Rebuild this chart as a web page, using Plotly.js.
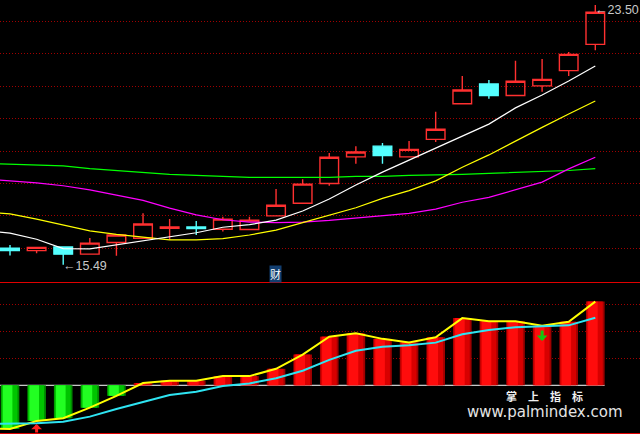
<!DOCTYPE html>
<html><head><meta charset="utf-8">
<script src="https://cdn.plot.ly/plotly-3.0.1.min.js"></script>
<style>html,body{margin:0;padding:0;background:#000;}#chart{width:640px;height:434px;}</style>
</head><body><div id="chart"></div>
<script>
// ---- price data (daily candles) ----
const openP  = [16.00,15.93,16.04,15.82,16.18,16.31,16.62,16.66,16.59,16.58,17.00,17.39,18.00,18.82,19.15,18.82,19.36,20.46,21.07,20.71,21.01,21.48,22.29];
const highP  = [16.10,16.03,16.04,16.32,16.41,17.08,16.90,16.84,16.97,16.97,17.83,18.13,18.94,19.15,19.25,19.31,20.21,21.31,21.19,21.78,21.84,22.05,23.50];
const lowP   = [15.78,15.85,15.49,15.82,15.77,16.31,16.26,16.41,16.52,16.58,17.00,17.39,17.93,18.61,18.61,18.82,19.28,20.46,20.61,20.71,20.83,21.31,22.11];
const closeP = [15.93,16.03,15.82,16.16,16.41,16.75,16.66,16.61,16.90,16.87,17.33,17.98,18.81,18.97,18.86,19.05,19.67,20.88,20.71,21.15,21.21,21.98,23.28];

// ---- moving averages (first value = prior session) ----
const maWhite   = [16.54,16.47,16.28,15.99,15.98,16.10,16.23,16.35,16.48,16.65,16.73,16.87,17.15,17.52,17.95,18.35,18.72,19.09,19.46,19.83,20.33,20.73,21.16,21.62];
const maYellow  = [17.12,17.06,16.90,16.72,16.54,16.43,16.34,16.26,16.26,16.30,16.41,16.56,16.79,17.03,17.25,17.54,17.78,18.08,18.50,18.88,19.31,19.73,20.14,20.54];
const maMagenta = [18.14,18.08,18.02,17.93,17.80,17.64,17.48,17.24,17.03,16.88,16.81,16.79,16.81,16.86,16.93,17.01,17.08,17.21,17.42,17.57,17.81,18.04,18.45,18.81];
const maGreen   = [18.62,18.60,18.56,18.54,18.46,18.40,18.32,18.28,18.25,18.21,18.19,18.19,18.19,18.19,18.22,18.22,18.25,18.26,18.28,18.31,18.34,18.35,18.40,18.46];

// ---- lower indicator ----
const indPrev  = -16.0;
const indBar   = [-16.2,-13.2,-12.2,-8.3,-3.9,0.85,1.7,1.7,3.4,3.4,6.1,11.4,18.0,19.3,17.2,15.9,17.8,24.9,23.7,23.7,22.1,23.5,31.0];
const indCyan  = [-14.3,-14.3,-14.1,-13.5,-11.6,-8.8,-6.3,-3.6,-2.4,-0.3,0.7,2.6,5.4,9.4,12.8,14.3,14.8,15.8,18.9,20.5,21.5,21.9,22.2,25.0];
const buyIdx   = [1];   const buyVal  = [-14.3];
const sellIdx  = [20];  const sellVal = [16.4];
const gridPrice = [16,17,18,19,20,21,22,23];
const gridInd   = [10,20,30];

const n = closeP.length;
const idx = closeP.map((_, i) => i);
const idxPrev = [-1].concat(idx);
const indYellow = [indPrev].concat(indBar);

const traces = [];
traces.push({
  type:'candlestick', x: idx, open: openP, high: highP, low: lowP, close: closeP,
  xaxis:'x', yaxis:'y', whiskerwidth:0,
  increasing:{line:{color:'#ff3030', width:1.4}, fillcolor:'rgba(0,0,0,0)'},
  decreasing:{line:{color:'#54ffff', width:1.4}, fillcolor:'#54ffff'},
  hoverinfo:'skip'
});
[[maGreen,'#00ff00'],[maMagenta,'#ff00ff'],[maYellow,'#ffff00'],[maWhite,'#ffffff']].forEach(([d,c]) => {
  traces.push({type:'scatter', mode:'lines', x: idxPrev, y: d, xaxis:'x', yaxis:'y',
    line:{color:c, width:1.2}, hoverinfo:'skip'});
});

// histogram with shaded layers
const layers = [
  {w:0.70, off:-0.35, pos:'#a00000', neg:'#008c00'},
  {w:0.60, off:-0.32, pos:'#d80000', neg:'#00c400'},
  {w:0.36, off:-0.27, pos:'#ff0c0c', neg:'#22ff22'}
];
layers.forEach(L => {
  traces.push({type:'bar', x: idx, y: indBar, xaxis:'x2', yaxis:'y2',
    width: L.w, offset: L.off,
    marker:{color: indBar.map(v => v >= 0 ? L.pos : L.neg), line:{width:0}},
    hoverinfo:'skip'});
});
traces.push({type:'scatter', mode:'lines', x: idxPrev, y: indYellow, xaxis:'x2', yaxis:'y2',
  line:{color:'#ffff00', width:2}, hoverinfo:'skip'});
traces.push({type:'scatter', mode:'lines', x: idxPrev, y: indCyan, xaxis:'x2', yaxis:'y2',
  line:{color:'#2ee4f2', width:2}, hoverinfo:'skip'});

// locate extremes for labels
let iLo = 0, iHi = 0;
lowP.forEach((v,i) => { if (v < lowP[iLo]) iLo = i; });
highP.forEach((v,i) => { if (v > highP[iHi]) iHi = i; });

const xr = [-0.376, 23.68];
const annotations = [
  {xref:'x', yref:'y', x: iLo, y: lowP[iLo], text:'←' + lowP[iLo].toFixed(2), showarrow:false,
   xanchor:'left', yanchor:'middle', xshift:-2, yshift:-1,
   font:{family:'Liberation Sans, DejaVu Sans', size:12.5, color:'#c8c8c8'}},
  {xref:'x', yref:'y', x: iHi, y: highP[iHi], text:'←' + highP[iHi].toFixed(2), showarrow:false,
   xanchor:'left', yanchor:'middle', xshift:-2, yshift:-5,
   font:{family:'Liberation Sans, DejaVu Sans', size:12.5, color:'#c8c8c8'}},
  {xref:'paper', yref:'paper', x: 275.5/640, y: 1-274/434, text:'财', showarrow:false,
   xanchor:'center', yanchor:'middle', bgcolor:'#123e70', borderpad:0,
   font:{family:'Noto Sans CJK SC', size:11, color:'#ffffff'}},
  {xref:'paper', yref:'paper', x: 544/640, y: 1-395.5/434, text:'<b>掌　上　指　标</b>', showarrow:false,
   xanchor:'center', yanchor:'middle', borderpad:0,
   font:{family:'Noto Sans CJK SC', size:11, color:'#f0f0f0'}},
  {xref:'paper', yref:'paper', x: 544.5/640, y: 1-412/434, text:'www.palmindex.com', showarrow:false,
   xanchor:'center', yanchor:'middle', borderpad:0,
   font:{family:'DejaVu Sans', size:15, color:'#e4e4e4'}}
];
buyIdx.forEach((b,k) => annotations.push({xref:'x2', yref:'y2', x:b, y:buyVal[k], ax:0, ay:10,
  text:'', showarrow:true, arrowhead:1, arrowsize:0.6, arrowwidth:3, arrowcolor:'#ff2020'}));
sellIdx.forEach((s,k) => annotations.push({xref:'x2', yref:'y2', x:s, y:sellVal[k], ax:0, ay:-12,
  text:'', showarrow:true, arrowhead:1, arrowsize:0.6, arrowwidth:3, arrowcolor:'#10c810'}));

const gridStyle = {showgrid:true, gridcolor:'#a00000', griddash:'1px,2px', gridwidth:1,
  zeroline:false, showticklabels:false, ticks:'', fixedrange:true};
const layout = {
  width:640, height:434, margin:{l:0,r:0,t:0,b:0},
  paper_bgcolor:'#000000', plot_bgcolor:'#000000',
  showlegend:false, boxgap:0.3, boxgroupgap:0, barmode:'overlay', hovermode:false,
  xaxis:{range:xr, domain:[0,1], anchor:'y', showgrid:false, zeroline:false, showticklabels:false,
    ticks:'', rangeslider:{visible:false}, fixedrange:true},
  yaxis:Object.assign({domain:[1-281/434,1], range:[14.992,23.657], tickvals:gridPrice, anchor:'x'}, gridStyle),
  xaxis2:{range:xr, domain:[0,1], anchor:'y2', showgrid:false, zeroline:false, showticklabels:false,
    ticks:'', showline:false, fixedrange:true},
  yaxis2:Object.assign({domain:[1-433/434,1-282/434], range:[-17.67,38.26], tickvals:gridInd, anchor:'x2'}, gridStyle),
  shapes:[
    {type:'line', xref:'x2', yref:'y2', x0:-1, x1:n-1+0.35, y0:0, y1:0,
     line:{color:'#ffffff', width:1}, layer:'below'},
    {type:'line', xref:'paper', yref:'paper', x0:0, x1:1, y0:1-282.5/434, y1:1-282.5/434,
     line:{color:'#e00000', width:1}, layer:'above'},
    {type:'line', xref:'paper', yref:'paper', x0:0, x1:1, y0:1-433.5/434, y1:1-433.5/434,
     line:{color:'#e00000', width:1}, layer:'above'}
  ],
  annotations: annotations
};
Plotly.newPlot('chart', traces, layout, {staticPlot:true, displayModeBar:false});
</script>
</body></html>
